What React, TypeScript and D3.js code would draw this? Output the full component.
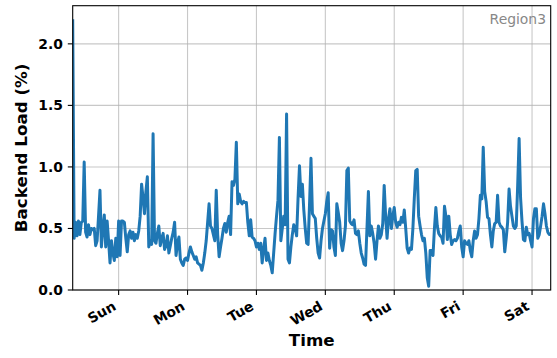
import * as d3 from 'd3';

// half-hourly samples, starting Saturday 08:00
const startTime = new Date(2022, 11, 31, 8, 0);
const stepMinutes = 30;

const loadValues = [
  2.2, 0.42, 0.55, 0.44, 0.56, 0.45, 0.55, 0.56, 1.04, 0.47,
  0.43, 0.53, 0.45, 0.5, 0.49, 0.5, 0.36, 0.4, 0.6, 0.81,
  0.35, 0.5, 0.61, 0.35, 0.56, 0.4, 0.22, 0.4, 0.3, 0.24,
  0.42, 0.27, 0.56, 0.28, 0.56, 0.56, 0.55, 0.42, 0.31, 0.45,
  0.48, 0.42, 0.47, 0.4, 0.45, 0.42, 0.48, 0.6, 0.86, 0.75,
  0.62, 0.8, 0.92, 0.35, 0.4, 0.37, 1.27, 0.4, 0.38, 0.46,
  0.52, 0.36, 0.42, 0.46, 0.33, 0.36, 0.44, 0.3, 0.36, 0.42,
  0.47, 0.55, 0.28, 0.38, 0.43, 0.25, 0.22, 0.2, 0.25, 0.26,
  0.24, 0.3, 0.35, 0.31, 0.28, 0.25, 0.27, 0.22, 0.21, 0.2,
  0.16, 0.22, 0.3, 0.4, 0.55, 0.7, 0.52, 0.5, 0.45, 0.4,
  0.81, 0.45, 0.27, 0.35, 0.42, 0.5, 0.54, 0.47, 0.55, 0.6,
  0.45, 0.88, 0.85, 0.9, 1.2, 0.7, 0.78, 0.72, 0.7, 0.72,
  0.71, 0.71, 0.55, 0.44, 0.57, 0.43, 0.42, 0.4, 0.35, 0.38,
  0.33, 0.38, 0.22, 0.33, 0.42, 0.24, 0.3, 0.24, 0.2, 0.14,
  0.3, 0.46, 0.6, 0.73, 1.24, 0.4, 0.5, 0.6, 0.53, 1.43,
  0.25, 0.22, 0.35, 0.45, 0.53, 0.5, 0.44, 0.75, 1.01, 0.76,
  0.86, 0.65, 0.5, 0.38, 0.37, 0.7, 1.07, 0.62, 0.6, 0.58,
  0.42, 0.3, 0.26, 0.4, 0.5, 0.56, 0.62, 0.72, 0.79, 0.34,
  0.49, 0.48, 0.35, 0.28, 0.7, 0.63, 0.55, 0.38, 0.32, 0.4,
  0.52, 0.97, 0.99, 0.56, 0.54, 0.53, 0.57, 0.46, 0.45, 0.48,
  0.38, 0.3, 0.26, 0.21, 0.2, 0.5, 0.8, 0.44, 0.52, 0.46,
  0.38, 0.25, 0.4, 0.52, 0.42, 0.45, 0.54, 0.85, 0.6, 0.42,
  0.58, 0.66, 0.5, 0.6, 0.67, 0.55, 0.51, 0.55, 0.53, 0.59,
  0.55, 0.65, 0.5, 0.34, 0.3, 0.34, 0.33, 0.5, 0.75, 0.97,
  0.98, 0.6, 0.52, 0.45, 0.4, 0.42, 0.3, 0.1, 0.03, 0.32,
  0.32, 0.28, 0.5, 0.67, 0.52, 0.46, 0.44, 0.43, 0.38, 0.68,
  0.6, 0.41, 0.6, 0.45, 0.37, 0.4, 0.41, 0.4, 0.42, 0.48,
  0.52, 0.35, 0.27, 0.4, 0.38, 0.37, 0.4, 0.32, 0.27, 0.4,
  0.48, 0.42, 0.45, 0.58, 0.77, 0.74, 1.16, 0.8, 0.72, 0.59,
  0.58, 0.45, 0.35, 0.48, 0.54, 0.55, 0.77, 0.55, 0.52, 0.51,
  0.49, 0.31, 0.42, 0.55, 0.82, 0.68, 0.6, 0.52, 0.5, 0.52,
  0.85, 1.23, 0.75, 0.56, 0.41, 0.4, 0.51, 0.45, 0.46, 0.4,
  0.35, 0.58, 0.66, 0.66, 0.42, 0.45, 0.52, 0.6, 0.7, 0.62,
  0.52, 0.47, 0.45, 0.45,
];

const yTicks = [0, 0.5, 1.0, 1.5, 2.0];
const xTitle = 'Time';
const yTitle = 'Backend Load (%)';
const regionLabel = 'Region3';

const width = 557;
const height = 358;
const margin = { top: 5.7, right: 6.3, bottom: 68, left: 72.7 };
const font = "'DejaVu Sans', sans-serif";

export default function App() {
  const times = loadValues.map((_, i) => d3.timeMinute.offset(startTime, i * stepMinutes));

  const x = d3.scaleTime()
    .domain(d3.extent(times) as [Date, Date])
    .range([margin.left, width - margin.right]);

  const y = d3.scaleLinear()
    .domain([0, 2.31])
    .range([height - margin.bottom, margin.top]);

  const line = d3.line<number>()
    .x((_, i) => x(times[i]))
    .y(d => y(d));

  const dayTicks = x.ticks(d3.timeDay.every(1));
  const fmtDay = d3.timeFormat('%a');
  const fmtY = d3.format('.1f');

  const left = margin.left;
  const right = width - margin.right;
  const top = margin.top;
  const bottom = height - margin.bottom;
  const tickLen = 4.9;
  const fs = 13.9;

  return (
    <svg
      width={width}
      height={height}
      style={{ position: 'absolute', left: 0, top: 0, background: '#fff' }}
      fontFamily={font}
    >
      <defs>
        <clipPath id="plot-clip">
          <rect x={left} y={top} width={right - left} height={bottom - top} />
        </clipPath>
      </defs>

      {/* grid */}
      <g stroke="#b0b0b0" strokeOpacity={0.7} strokeWidth={1.1}>
        {dayTicks.map(t => (
          <line key={+t} x1={x(t)} x2={x(t)} y1={top} y2={bottom} />
        ))}
        {yTicks.map(v => (
          <line key={v} x1={left} x2={right} y1={y(v)} y2={y(v)} />
        ))}
      </g>

      {/* series */}
      <path
        d={line(loadValues) ?? ''}
        fill="none"
        stroke="#1f77b4"
        strokeWidth={3}
        strokeLinejoin="round"
        clipPath="url(#plot-clip)"
      />

      {/* spines */}
      <rect x={left} y={top} width={right - left} height={bottom - top}
        fill="none" stroke="#000" strokeWidth={1.1} />

      {/* y axis */}
      {yTicks.map(v => (
        <g key={v}>
          <line x1={left - tickLen} x2={left} y1={y(v)} y2={y(v)} stroke="#000" strokeWidth={1.1} />
          <text x={left - tickLen - 4.9} y={y(v)} dy="0.36em" textAnchor="end"
            fontSize={fs} fontWeight="bold">{fmtY(v)}</text>
        </g>
      ))}

      {/* x axis */}
      {dayTicks.map(t => (
        <g key={+t}>
          <line x1={x(t)} x2={x(t)} y1={bottom} y2={bottom + tickLen} stroke="#000" strokeWidth={1.1} />
          <text
            transform={`translate(${x(t) - 0.24 * fs * 0.5},${bottom + tickLen + 4.9 + 0.866 * 0.76 * fs}) rotate(-30)`}
            textAnchor="end"
            fontSize={fs}
            fontWeight="bold"
          >{fmtDay(t)}</text>
        </g>
      ))}

      <text x={(left + right) / 2} y={346} textAnchor="middle" fontSize={16.7} fontWeight="bold">
        {xTitle}
      </text>
      <text
        transform={`translate(27,${(top + bottom) / 2}) rotate(-90)`}
        textAnchor="middle"
        fontSize={16.7}
        fontWeight="bold"
      >{yTitle}</text>

      <text x={546} y={23.5} textAnchor="end" fontSize={fs} fill="#888">{regionLabel}</text>
    </svg>
  );
}
